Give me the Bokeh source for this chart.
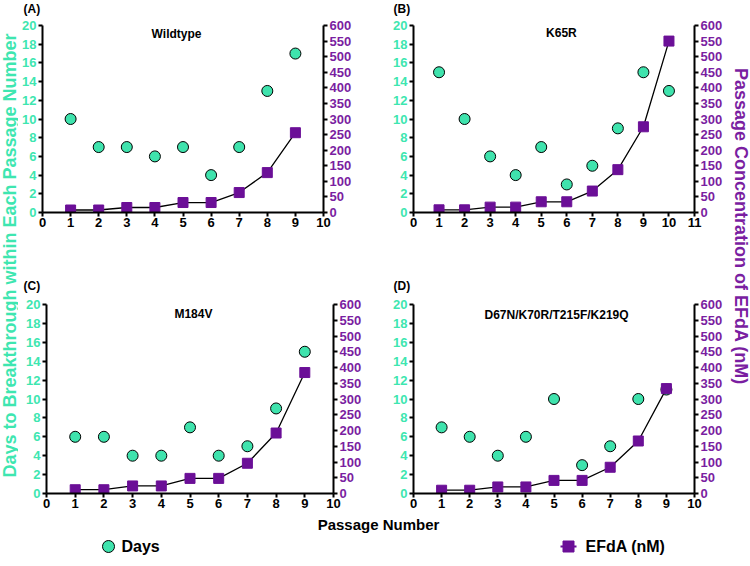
from math import pi
from bokeh.plotting import figure
from bokeh.models import Range1d, LinearAxis, SingleIntervalTicker, Label
from bokeh.layouts import row, column
from bokeh.embed import file_html
from bokeh.resources import INLINE

# ---------------- data ----------------
passage_A = [1, 2, 3, 4, 5, 6, 7, 8, 9]
days_A = [10, 7, 7, 6, 7, 4, 7, 13, 17]
efda_A = [8, 8, 16, 16, 32, 32, 64, 128, 256]

passage_B = [1, 2, 3, 4, 5, 6, 7, 8, 9, 10]
days_B = [15, 10, 6, 4, 7, 3, 5, 9, 15, 13]
efda_B = [8.6, 8.6, 17.2, 17.2, 34.4, 34.4, 68.8, 137.5, 275, 550]

passage_C = [1, 2, 3, 4, 5, 6, 7, 8, 9]
days_C = [6, 6, 4, 4, 7, 4, 5, 9, 15]
efda_C = [12, 12, 24, 24, 48, 48, 96, 192, 384]

passage_D = [1, 2, 3, 4, 5, 6, 7, 8, 9]
days_D = [7, 6, 4, 6, 10, 3, 5, 10, 11]
efda_D = [10.4, 10.4, 20.8, 20.8, 41.6, 41.6, 83.3, 166.7, 333]

panel_letters = ["(A)", "(B)", "(C)", "(D)"]
panel_titles = ["Wildtype", "K65R", "M184V", "D67N/K70R/T215F/K219Q"]
x_max = [10, 11, 10, 10]
left_label = "Days to Breakthrough within Each Passage Number"
right_label = "Passage Concentration of EFdA (nM)"
x_label = "Passage Number"
legend_labels = ["Days", "EFdA (nM)"]

# ---------------- style ----------------
TEAL_FILL = "#3fe3ad"
TEAL_TEXT = "#3ee6b0"
PURPLE_TEXT = "#7a1ea1"
PURPLE_FILL = "#6b0f97"
FONT = "Liberation Sans"


def style_axis(ax, color, standoff=2):
    ax.axis_line_color = "black"
    ax.axis_line_width = 2
    ax.major_tick_line_color = "black"
    ax.major_tick_line_width = 2
    ax.major_tick_in = 0
    ax.major_tick_out = 4
    ax.minor_tick_line_color = None
    ax.major_label_text_color = color
    ax.major_label_text_font = FONT
    ax.major_label_text_font_style = "bold"
    ax.major_label_text_font_size = "13px"
    ax.major_label_standoff = standoff


def panel(width, height, bl, br, bt, bb, xmax, passage, days, efda,
          letter, letter_off, letter_standoff, title, title_xy):
    p = figure(width=width, height=height, x_range=Range1d(0, xmax),
               y_range=Range1d(0, 20), output_backend="svg",
               toolbar_location=None, title=letter,
               min_border_left=bl, min_border_right=br,
               min_border_top=bt, min_border_bottom=bb)
    if letter is not None:
        p.title.align = "left"
        p.title.offset = letter_off
        p.title.text_font = FONT
        p.title.text_font_style = "bold"
        p.title.text_font_size = "12px"
        p.title.text_color = "black"
        p.title.standoff = letter_standoff
    p.extra_y_ranges = {"efda": Range1d(0, 600)}
    p.xgrid.visible = False
    p.ygrid.visible = False
    p.outline_line_color = None
    left = p.left[0]
    left.ticker = SingleIntervalTicker(interval=2)
    style_axis(left, TEAL_TEXT)
    bottom = p.below[0]
    bottom.ticker = SingleIntervalTicker(interval=1)
    style_axis(bottom, "black", standoff=1)
    right = LinearAxis(y_range_name="efda", ticker=SingleIntervalTicker(interval=50))
    style_axis(right, PURPLE_TEXT)
    p.add_layout(right, "right")

    p.scatter(passage, days, marker="circle", size=11, fill_color=TEAL_FILL,
              line_color="black", line_width=1)
    p.line(passage, efda, y_range_name="efda", line_color="black", line_width=1.3)
    p.scatter(passage, efda, marker="square", size=10, y_range_name="efda",
              fill_color=PURPLE_FILL, line_color=PURPLE_FILL)

    p.add_layout(Label(x=title_xy[0], y=title_xy[1], text=title,
                       text_font=FONT, text_font_style="bold",
                       text_font_size="12px", text_color="black",
                       text_align="center", text_baseline="middle"))
    return p


def blank(width, height):
    p = figure(width=width, height=height, x_range=Range1d(0, width),
               y_range=Range1d(0, height), x_axis_type=None, y_axis_type=None,
               output_backend="svg", toolbar_location=None, title=None,
               min_border=0)
    p.outline_line_color = None
    return p


# strip above the first row carrying the (A) / (B) letters
top_strip = blank(707, 16)
for lx, letter in ((5, panel_letters[0]), (375, panel_letters[1])):
    top_strip.add_layout(Label(x=lx, y=8, text=letter, text_font=FONT,
                               text_font_style="bold", text_font_size="12px",
                               text_color="black", text_align="left",
                               text_baseline="middle"))

pA = panel(367, 224, 24, 62, 9, 28, x_max[0], passage_A, days_A, efda_A,
           None, 0, 0, panel_titles[0], (4.77, 19.05))
pB = panel(340, 224, 28, 29, 9, 28, x_max[1], passage_B, days_B, efda_B,
           None, 0, 0, panel_titles[1], (5.79, 19.25))
pC = panel(367, 274, 28, 52, 63, 21, x_max[2], passage_C, days_C, efda_C,
           panel_letters[2], -23, 23, panel_titles[2], (5.12, 18.95))
pD = panel(340, 274, 28, 28, 64, 20, x_max[3], passage_D, days_D, efda_D,
           panel_letters[3], -20, 24, panel_titles[3], (5.09, 18.85))


left_fig = blank(18, 566)
left_fig.add_layout(Label(x=9, y=311, text=left_label, angle=pi / 2,
                          text_font=FONT, text_font_style="bold",
                          text_font_size="18px", text_color=TEAL_TEXT,
                          text_align="center", text_baseline="middle"))

right_fig = blank(25, 566)
right_fig.add_layout(Label(x=15, y=340, text=right_label, angle=-pi / 2,
                           text_font=FONT, text_font_style="bold",
                           text_font_size="18px", text_color=PURPLE_TEXT,
                           text_align="center", text_baseline="middle"))

bottom_fig = blank(707, 52)
bottom_fig.add_layout(Label(x=360, y=42, text=x_label, text_font=FONT,
                            text_font_style="bold", text_font_size="15px",
                            text_color="black", text_align="center",
                            text_baseline="middle"))
bottom_fig.scatter([90], [20], marker="circle", size=12, fill_color=TEAL_FILL,
                   line_color="black", line_width=1)
bottom_fig.add_layout(Label(x=103, y=20, text=legend_labels[0], text_font=FONT,
                            text_font_style="bold", text_font_size="16px",
                            text_color="black", text_align="left",
                            text_baseline="middle"))
bottom_fig.line([542, 558], [20, 20], line_color=PURPLE_FILL, line_width=2)
bottom_fig.scatter([550], [20], marker="square", size=11, fill_color=PURPLE_FILL,
                   line_color=PURPLE_FILL)
bottom_fig.add_layout(Label(x=567, y=20, text=legend_labels[1], text_font=FONT,
                            text_font_style="bold", text_font_size="16px",
                            text_color="black", text_align="left",
                            text_baseline="middle"))

layout = row(left_fig,
             column(top_strip, row(pA, pB), row(pC, pD), bottom_fig),
             right_fig)

open("out.html", "w").write(file_html(layout, INLINE))
